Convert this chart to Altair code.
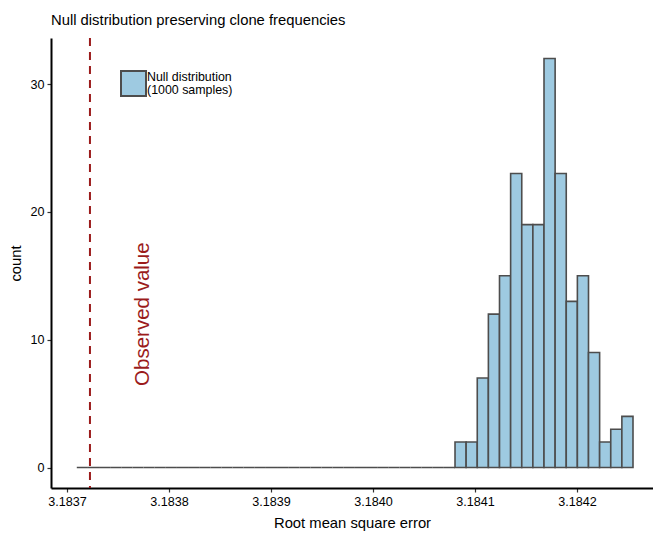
import altair as alt
import pandas as pd

# Histogram bins (50 bins), counts
bin_start = 3.1837096
bin_width = 0.000010906
counts = [0] * 34 + [2, 2, 7, 12, 15, 23, 19, 19, 32, 23, 13, 15, 9, 2, 3, 4]
observed_value = 3.1837225
x_ticks = [3.1837, 3.1838, 3.1839, 3.1840, 3.1841, 3.1842]
y_ticks = [0, 10, 20, 30]

bins = pd.DataFrame({
    "left": [bin_start + i * bin_width for i in range(len(counts))],
    "right": [bin_start + (i + 1) * bin_width for i in range(len(counts))],
    "count": counts,
})

FONT = "Liberation Sans"
x_scale = alt.Scale(domain=[3.18368431, 3.18427451], nice=False, zero=False)
y_scale = alt.Scale(domain=[-1.6, 33.6], nice=False, zero=False)

bars = alt.Chart(bins).mark_bar(
    fill="#9ECAE1", stroke="#4D4D4D", strokeWidth=1.6
).encode(
    x=alt.X("left:Q", scale=x_scale,
            axis=alt.Axis(values=x_ticks, format=".4f", title="Root mean square error",
                          grid=False, domainColor="black", domainWidth=2,
                          tickColor="#333333", tickSize=4, tickWidth=1.2,
                          labelColor="black", labelFontSize=12.6, labelFont=FONT,
                          labelPadding=3, titleFont=FONT, titleFontSize=14.8,
                          titleFontWeight="normal", titleColor="black", titlePadding=8)),
    x2="right:Q",
    y=alt.Y("count:Q", scale=y_scale,
            axis=alt.Axis(values=y_ticks, title="count", grid=False,
                          domainColor="black", domainWidth=2,
                          tickColor="#333333", tickSize=4, tickWidth=1.2,
                          labelColor="black", labelFontSize=12.6, labelFont=FONT,
                          labelPadding=3, titleFont=FONT, titleFontSize=14.8,
                          titleFontWeight="normal", titleColor="black", titlePadding=6)),
    y2=alt.Y2(datum=0),
)

obs = pd.DataFrame({"x": [observed_value]})
rule = alt.Chart(obs).mark_rule(
    color="#9B1B1B", strokeWidth=2, strokeDash=[8, 6]
).encode(x=alt.X("x:Q", scale=x_scale))

label = pd.DataFrame({"x": [3.1837745], "y": [12], "t": ["Observed value"]})
obs_text = alt.Chart(label).mark_text(
    angle=270, color="#9B1B1B", fontSize=20.5, font=FONT
).encode(
    x=alt.X("x:Q", scale=x_scale),
    y=alt.Y("y:Q", scale=y_scale),
    text="t:N",
)

legend_box = alt.Chart(pd.DataFrame({"a": [0]})).mark_rect(
    fill="#9ECAE1", stroke="#4D4D4D", strokeWidth=2
).encode(
    x=alt.value(70), x2=alt.value(95), y=alt.value(33), y2=alt.value(58)
)
legend_text = alt.Chart(pd.DataFrame({"t": [["Null distribution", "(1000 samples)"]]})).mark_text(
    align="left", baseline="top", fontSize=12.4, font=FONT, color="black", lineHeight=13
).encode(
    x=alt.value(96), y=alt.value(33), text="t"
)

chart = alt.layer(bars, rule, obs_text, legend_box, legend_text).properties(
    width=602, height=450,
    title=alt.TitleParams("Null distribution preserving clone frequencies",
                          anchor="start", font=FONT, fontSize=14.8, fontWeight="normal",
                          color="black", offset=9, frame="group"),
    autosize=alt.AutoSizeParams(type="none"),
    padding={"left": 51, "top": 38, "right": 0, "bottom": 45},
).configure_view(stroke=None)

chart.save("out.html", embed_options={"renderer": "svg", "actions": False})
